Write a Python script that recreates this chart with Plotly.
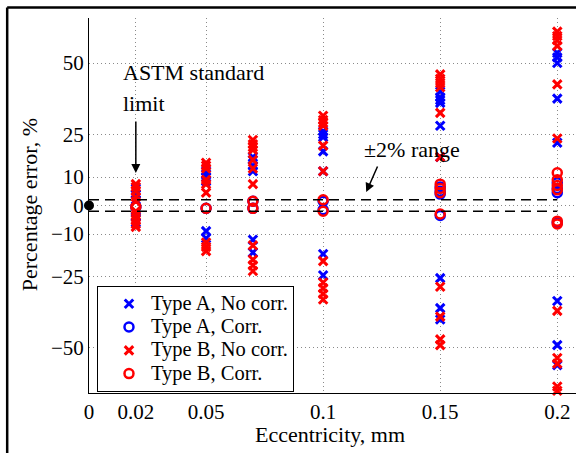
import plotly.graph_objects as go

# ---------------- data ----------------
ecc = [0.02, 0.05, 0.07, 0.1, 0.15, 0.2]
x_ticks = [0, 0.02, 0.05, 0.1, 0.15, 0.2]
x_ticktext = ["0", "0.02", "0.05", "0.1", "0.15", "0.2"]
y_ticks = [-50, -25, -10, 0, 10, 25, 50]
y_ticktext = ["\u221250", "\u221225", "\u221210", "0", "10", "25", "50"]

typeA_nocorr = [
    [6, 4, 2, -2.5, -4, -6],
    [12, 11, 10, 8.5, -9, -11.5],
    [17, 16, 14, 12, -12, -16.5],
    [26, 25, 24, 19, 12, -17, -24.5],
    [40, 38, 37, 36, 28, 17, -25.5, -36, -40],
    [53.5, 52, 50, 37.5, 22, -33.5, -49, -56],
]
typeA_corr = [
    [-0.5],
    [-1],
    [1.5, -1],
    [1.5, -1.5],
    [6.5, 5, 4, -3.5],
    [8, 6, 4.5, -6],
]
typeB_nocorr = [
    [7.5, 6.5, 5, 3, 1.5, -2, -3.5, -5, -6.5, -7.5],
    [15, 14, 13, 9, 7.5, 4.5, -13, -14.5, -16],
    [23, 21.5, 20.5, 19.5, 16, 13, 7.5, -14, -19, -21, -23],
    [31.5, 30, 29, 28, 21, 12, -19.5, -27, -29, -31, -33],
    [46, 44.5, 43, 41.5, 32.5, 17, -28.5, -39, -47, -49],
    [61, 59.5, 58, 56, 42.5, 23.5, -37, -53.5, -55.5, -63.5, -65],
]
typeB_corr = [
    [-0.5],
    [-1],
    [1.5, -1],
    [2, -2],
    [7.5, 6, 4.5, -3],
    [11.5, 9, 7, 5.5, -5.5, -6.5],
]
series_names = ["Type A, No corr.", "Type A, Corr.", "Type B, No corr.", "Type B, Corr."]
band_limit = 2          # +-2 % range
origin_point = (0, 0)

FONT = "Liberation Serif, Times New Roman, serif"


def flatten(groups):
    xs, ys = [], []
    for e, vals in zip(ecc, groups):
        for v in vals:
            xs.append(e)
            ys.append(v)
    return xs, ys


fig = go.Figure()

styles = [
    (typeA_nocorr, "blue", "x-thin-open"),
    (typeA_corr, "blue", "circle-open"),
    (typeB_nocorr, "red", "x-thin-open"),
    (typeB_corr, "red", "circle-open"),
]
for (groups, col, sym), name in zip(styles, series_names):
    xs, ys = flatten(groups)
    is_x = sym.startswith("x")
    fig.add_trace(go.Scatter(
        x=xs, y=ys, mode="markers",
        name="<span style='font-size:20.5px'>%s</span>" % name,
        marker=dict(symbol=sym, color=col, size=8.5 if is_x else 9,
                    line=dict(color=col, width=3 if is_x else 2.5)),
        cliponaxis=False,
    ))

# +-2% dashed lines
for lim in (band_limit, -band_limit):
    fig.add_trace(go.Scatter(
        x=[0, ecc[-1]], y=[lim, lim], mode="lines", showlegend=False,
        line=dict(color="black", width=1.5, dash="10px,6px"), hoverinfo="skip",
    ))

# origin dot
fig.add_trace(go.Scatter(
    x=[origin_point[0]], y=[origin_point[1]], mode="markers", showlegend=False,
    marker=dict(symbol="circle", color="black", size=10), cliponaxis=False,
))

axis_common = dict(
    showgrid=True, gridcolor="#8a8a8a", griddash="1px,3px", gridwidth=1,
    zeroline=False, showline=True, linecolor="black", linewidth=1,
    ticks="", tickfont=dict(family=FONT, size=21, color="black"),
)

fig.update_layout(
    width=576, height=453,
    margin=dict(l=89, r=0, t=18, b=60),
    paper_bgcolor="white", plot_bgcolor="white",
    font=dict(family=FONT, color="black"),
    xaxis=dict(range=[0, 0.208], tickmode="array", tickvals=x_ticks,
               ticktext=x_ticktext, **axis_common),
    yaxis=dict(range=[-65.8, 65.8], tickmode="array", tickvals=y_ticks,
               ticktext=y_ticktext, **axis_common),
    legend=dict(x=0.0164, y=0.285, xanchor="left", yanchor="top",
                bgcolor="white", bordercolor="black", borderwidth=1,
                font=dict(family=FONT, size=15.6, color="black"),
                tracegroupgap=0, indentation=9, itemwidth=34),
    showlegend=True,
)

# axis titles
fig.add_annotation(text="Eccentricity, mm", xref="paper", yref="paper",
                   x=0.495, y=-0.111, xanchor="center", yanchor="middle",
                   showarrow=False,
                   font=dict(family=FONT, size=22, color="black"))
fig.add_annotation(text="Percentage error, %", xref="paper", yref="paper",
                   x=-0.123, y=0.501, xanchor="center", yanchor="middle",
                   showarrow=False, textangle=-90,
                   font=dict(family=FONT, size=22, color="black"))

# text annotations
fig.add_annotation(text="ASTM standard", xref="paper", yref="paper",
                   x=(121 - 89) / 487, y=(393 - 73) / 375, xanchor="left",
                   yanchor="middle", showarrow=False,
                   font=dict(family=FONT, size=22, color="black"))
fig.add_annotation(text="limit", xref="paper", yref="paper",
                   x=(121 - 89) / 487, y=(393 - 103) / 375, xanchor="left",
                   yanchor="middle", showarrow=False,
                   font=dict(family=FONT, size=22, color="black"))
fig.add_annotation(x=ecc[0], y=11.4, ax=ecc[0], ay=30, xref="x", yref="y",
                   axref="x", ayref="y", text="", showarrow=True,
                   arrowhead=2, arrowsize=1.2, arrowwidth=1.5, arrowcolor="black")
fig.add_annotation(text="\u00b12% range", xref="paper", yref="paper",
                   x=(362 - 89) / 487, y=(393 - 149) / 375, xanchor="left",
                   yanchor="middle", showarrow=False,
                   font=dict(family=FONT, size=22, color="black"))
fig.add_annotation(x=0.1184, y=4.7, ax=0.1235, ay=14.2, xref="x", yref="y",
                   axref="x", ayref="y", text="", showarrow=True,
                   arrowhead=2, arrowsize=1.2, arrowwidth=1.5, arrowcolor="black")

# outer frame (cropped figure border)
fig.add_shape(type="line", xref="paper", yref="paper",
              x0=-0.168, x1=1.1, y0=1.028, y1=1.028,
              line=dict(color="black", width=2.5))
fig.add_shape(type="line", xref="paper", yref="paper",
              x0=-0.168, x1=-0.168, y0=1.028, y1=-0.3,
              line=dict(color="black", width=2.5))

fig.write_html("out.html",
               config={"displayModeBar": False},
               post_script="document.body.style.margin='0';"
                           "document.body.style.overflow='hidden';")
